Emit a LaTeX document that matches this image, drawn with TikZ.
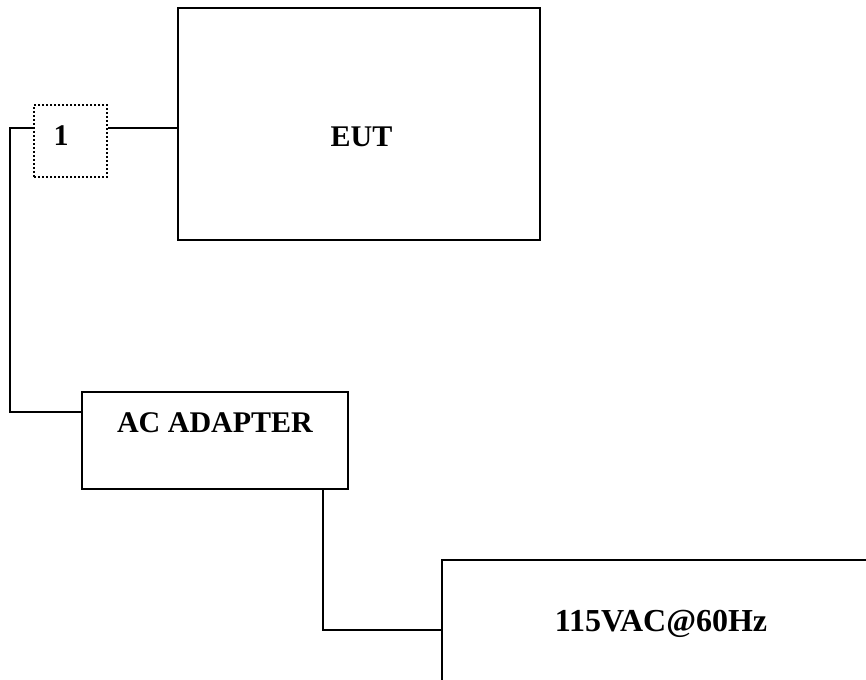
\documentclass[tikz,border=0pt]{standalone}
\usepackage{fontspec}
\setmainfont{Liberation Serif}
\begin{document}
\begin{tikzpicture}[x=1pt,y=-1pt,
  box/.style={draw,line width=2pt,rectangle,inner sep=0pt},
  dotbox/.style={draw,line width=2pt,dash pattern=on 2pt off 2pt,rectangle,inner sep=0pt},
  wire/.style={line width=2pt},
  lbl/.style={font=\fontsize{30}{32}\selectfont\bfseries},
  biglbl/.style={font=\fontsize{32}{34}\selectfont\bfseries}]
\useasboundingbox (0,0) rectangle (866,679);
\clip (0,0) rectangle (866,679);
\node[box,minimum width=362pt,minimum height=232pt,
  label={[lbl,xshift=2.5pt,yshift=-12.5pt]center:EUT}] (eut) at (359,124) {};
\node[dotbox,minimum width=73pt,minimum height=72pt,
  label={[lbl,xshift=-9.5pt,yshift=5pt]center:1}] (one) at (70.5,141) {};
\node[box,minimum width=266pt,minimum height=97pt,
  label={[lbl,yshift=17.5pt]center:AC ADAPTER}] (ac) at (215,440.5) {};
\node[box,minimum width=434pt,minimum height=126pt,
  label={[biglbl,xshift=2pt,yshift=-1pt]center:115VAC@60Hz}] (pw) at (659,623) {};
\coordinate (j) at (0,128);
\coordinate (wl) at (10,0);
\coordinate (k) at (0,412);
\coordinate (m) at (323,0);
\coordinate (n) at (0,630);
\draw[wire] (one.east |- j) -- (eut.west |- j);
\draw[wire] (one.west |- j) -| (wl |- k) -- (ac.west |- k);
\draw[wire] (ac.south -| m) |- (pw.west |- n);
\end{tikzpicture}
\end{document}
